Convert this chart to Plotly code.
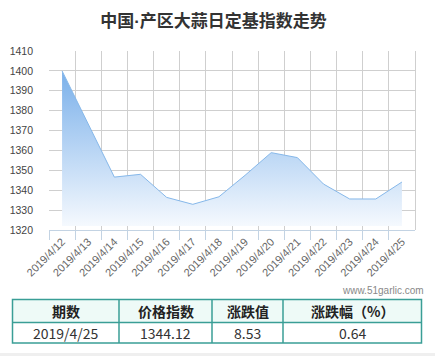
import plotly.graph_objects as go

W, H = 435, 356

title_text = "中国·产区大蒜日定基指数走势"
dates = ["2019/4/12", "2019/4/13", "2019/4/14", "2019/4/15", "2019/4/16", "2019/4/17",
         "2019/4/18", "2019/4/19", "2019/4/20", "2019/4/21", "2019/4/22", "2019/4/23",
         "2019/4/24", "2019/4/25"]
index_values = [1400.0, 1373.3, 1346.6, 1348.0, 1336.4, 1332.9, 1336.7, 1347.5,
                1358.9, 1356.4, 1343.1, 1335.6, 1335.59, 1344.12]
y_ticks = [1320, 1330, 1340, 1350, 1360, 1370, 1380, 1390, 1400, 1410]
fill_base = 1322

table_headers = ["期数", "价格指数", "涨跌值", "涨跌幅（%）"]
table_row = ["2019/4/25", "1344.12", "8.53", "0.64"]
watermark = "www.51garlic.com"

# table geometry (pixels)
col_edges = [12.5, 119, 212, 283, 421.5]
row_edges = [299.5, 322.5, 343]
border = "#3a9e96"

def px_x(p):
    return p / W

def px_y(p):
    return 1 - p / H

fig = go.Figure()

fig.add_trace(go.Scatter(
    x=dates, y=[fill_base] * len(dates), mode="lines",
    line=dict(width=0, color="rgba(0,0,0,0)"), hoverinfo="skip", showlegend=False,
))
fig.add_trace(go.Scatter(
    x=dates, y=index_values, mode="lines",
    line=dict(color="#86b8ea", width=1),
    fill="tonexty",
    fillgradient=dict(
        type="vertical",
        colorscale=[[0, "rgba(245,249,254,1)"], [1, "rgba(122,176,234,1)"]],
        start=fill_base, stop=1400,
    ),
    showlegend=False,
))

shapes = [
    dict(type="line", xref="paper", yref="paper",
         x0=px_x(415.5), x1=px_x(415.5), y0=px_y(230), y1=px_y(51),
         line=dict(color="#cfcfcf", width=1)),
    dict(type="rect", xref="paper", yref="paper",
         x0=0, x1=1, y0=0, y1=px_y(353),
         fillcolor="#efefef", line=dict(width=0), layer="below"),
    # header background
    dict(type="rect", xref="paper", yref="paper",
         x0=px_x(col_edges[0]), x1=px_x(col_edges[-1]),
         y0=px_y(row_edges[1]), y1=px_y(row_edges[0]),
         fillcolor="#eefaf7", line=dict(width=0), layer="below"),
    # outer border
    dict(type="rect", xref="paper", yref="paper",
         x0=px_x(col_edges[0]), x1=px_x(col_edges[-1]),
         y0=px_y(row_edges[-1]), y1=px_y(row_edges[0]),
         line=dict(color=border, width=1.5)),
    dict(type="line", xref="paper", yref="paper",
         x0=px_x(col_edges[0]), x1=px_x(col_edges[-1]),
         y0=px_y(row_edges[1]), y1=px_y(row_edges[1]),
         line=dict(color=border, width=1.5)),
]
for cx in col_edges[1:-1]:
    shapes.append(dict(type="line", xref="paper", yref="paper",
                       x0=px_x(cx), x1=px_x(cx),
                       y0=px_y(row_edges[-1]), y1=px_y(row_edges[0]),
                       line=dict(color=border, width=1.5)))

annotations = [dict(
    text=watermark, xref="paper", yref="paper",
    x=px_x(426), y=px_y(290), xanchor="right", yanchor="middle",
    showarrow=False, font=dict(family="Liberation Sans", size=10, color="#888"),
)]
for i in range(len(table_headers)):
    cx = (col_edges[i] + col_edges[i + 1]) / 2
    annotations.append(dict(
        text="<b>%s</b>" % table_headers[i], xref="paper", yref="paper",
        x=px_x(cx), y=px_y((row_edges[0] + row_edges[1]) / 2),
        xanchor="center", yanchor="middle", showarrow=False,
        font=dict(family="Noto Sans CJK SC", size=14, color="#222"),
    ))
    annotations.append(dict(
        text=table_row[i], xref="paper", yref="paper",
        x=px_x(cx), y=px_y((row_edges[1] + row_edges[2]) / 2),
        xanchor="center", yanchor="middle", showarrow=False,
        font=dict(family="Noto Sans CJK SC", size=14, color="#333"),
    ))

fig.update_layout(
    width=W, height=H,
    margin=dict(l=0, r=0, t=0, b=0, autoexpand=False),
    paper_bgcolor="white", plot_bgcolor="white",
    showlegend=False,
    title=dict(
        text="<b>%s</b>" % title_text,
        x=213.5 / W, xanchor="center", y=px_y(21), yanchor="middle",
        font=dict(family="Liberation Sans, Noto Sans CJK SC", size=17, color="#333"),
    ),
    xaxis=dict(
        domain=[px_x(49), px_x(415)],
        type="category", range=[-0.5, 13.5],
        tickson="boundaries", ticks="outside", ticklen=9, tickcolor="#c3d3e3",
        showgrid=True, gridcolor="#cfcfcf", gridwidth=1,
        showline=True, linecolor="#c3d3e3", linewidth=1,
        tickangle=-45, automargin=False,
        tickfont=dict(family="Liberation Sans", size=11, color="#666"),
        anchor="y", fixedrange=True,
    ),
    yaxis=dict(
        domain=[px_y(230), px_y(51)],
        range=[1320, 1410],
        tickvals=y_ticks,
        showgrid=True, gridcolor="#cfcfcf", gridwidth=1,
        zeroline=False, showline=False, ticks="",
        ticklabelstandoff=15, automargin=False,
        tickfont=dict(family="Liberation Sans", size=10.5, color="#444"),
        fixedrange=True,
    ),
    annotations=annotations,
    shapes=shapes,
)

fig.write_html("out.html", config={"displayModeBar": False},
               post_script="document.body.style.margin='0';")
